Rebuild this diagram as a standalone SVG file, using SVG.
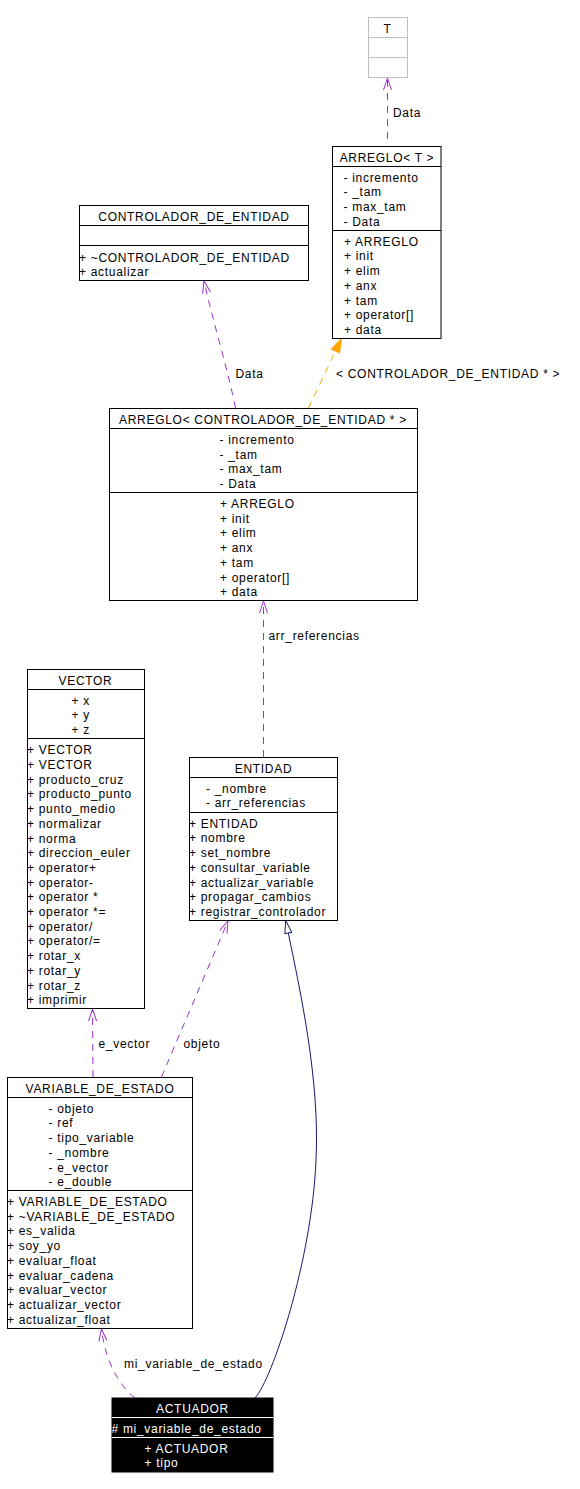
<svg xmlns="http://www.w3.org/2000/svg" width="580" height="1489" viewBox="0 0 580 1489">
<style>
text{font-family:"Liberation Sans",Arial,Helvetica,sans-serif;font-size:12px;letter-spacing:0.7px;fill:#000}
.c{text-anchor:middle}
.box{fill:#fff;stroke:#000;stroke-width:1}
.sep{stroke:#000;stroke-width:1}
.gray{fill:#fff;stroke:#bfbfbf;stroke-width:1}
.gsep{stroke:#bfbfbf;stroke-width:1}
.dark{fill:#000;stroke:#000;stroke-width:1}
.wsep{stroke:#fff;stroke-width:1}
.w{fill:#fff}
.use{fill:none;stroke:#9a32cd;stroke-width:1;stroke-dasharray:7,6;marker-end:url(#vee)}
.tmpl{fill:none;stroke:#ffa500;stroke-width:1;stroke-dasharray:7,6;marker-end:url(#fill)}
.inh{fill:none;stroke:#191970;stroke-width:1;marker-end:url(#tri)}
</style>
<defs>
<marker id="vee" viewBox="0 -5 13 10" markerUnits="userSpaceOnUse" markerWidth="13" markerHeight="10" refX="12" refY="0" orient="auto" overflow="visible">
<path d="M0,-4 L12,0 L0,4" fill="none" stroke="#9a32cd" stroke-width="1"/>
</marker>
<marker id="fill" viewBox="0 -5 14 10" markerUnits="userSpaceOnUse" markerWidth="14" markerHeight="10" refX="14" refY="0" orient="auto" overflow="visible">
<path d="M0,-4.5 L14,0 L0,4.5 z" fill="#ffa500" stroke="#ffa500" stroke-width="1"/>
</marker>
<marker id="tri" viewBox="0 -5 14 10" markerUnits="userSpaceOnUse" markerWidth="14" markerHeight="10" refX="0" refY="0" orient="auto" overflow="visible">
<path d="M0,-3.5 L13,0 L0,3.5 z" fill="#fff" stroke="#191970" stroke-width="1"/>
</marker>
</defs>

<g id="edges">
<path class="use" d="M387.5,139 L387.5,78"/>
<path class="tmpl" d="M308.5,408 L341.5,338.5"/>
<path class="use" d="M235.5,408 C228,370 212,318 204,281"/>
<path class="use" d="M263.5,757 L263.5,601"/>
<path class="use" d="M93,1077 L92.5,1009"/>
<path class="use" d="M161.5,1077 C175,1045 205,975 228,921"/>
<path class="use" d="M135,1398 C119,1386 105,1360 101.5,1329"/>
<path class="inh" d="M255,1398 C272,1380 312,1260 316,1160 C320,1080 300,990 288.3,933"/>
<text x="393" y="116.5">Data</text>
<text x="235.5" y="377.5">Data</text>
<text x="336" y="377.5">&lt; CONTROLADOR_DE_ENTIDAD * &gt;</text>
<text x="268.5" y="640">arr_referencias</text>
<text x="98.5" y="1047.5">e_vector</text>
<text x="183.5" y="1047.5">objeto</text>
<text x="124" y="1367.5">mi_variable_de_estado</text>
</g>

<g id="T">
<rect class="gray" x="368.5" y="17.5" width="39" height="60"/>
<line class="gsep" x1="368.5" y1="37.5" x2="407.5" y2="37.5"/>
<line class="gsep" x1="368.5" y1="57.5" x2="407.5" y2="57.5"/>
<text class="c" x="387.5" y="33">T</text>
</g>

<g id="ARREGLO_T">
<rect class="box" x="332.5" y="146.5" width="108.5" height="192"/>
<line class="sep" x1="332.5" y1="166.5" x2="441" y2="166.5"/>
<line class="sep" x1="332.5" y1="230.5" x2="441" y2="230.5"/>
<text class="c" x="387" y="162">ARREGLO&lt; T &gt;</text>
<text x="343.5" y="181.5">- incremento</text>
<text x="343.5" y="196.2">- _tam</text>
<text x="343.5" y="210.9">- max_tam</text>
<text x="343.5" y="225.6">- Data</text>
<text x="344" y="245.7">+ ARREGLO</text>
<text x="344" y="260.4">+ init</text>
<text x="344" y="275.1">+ elim</text>
<text x="344" y="289.8">+ anx</text>
<text x="344" y="304.5">+ tam</text>
<text x="344" y="319.2">+ operator[]</text>
<text x="344" y="333.9">+ data</text>
</g>

<g id="CONTROLADOR_DE_ENTIDAD">
<rect class="box" x="79.5" y="205.5" width="229" height="75"/>
<line class="sep" x1="79.5" y1="225.5" x2="308.5" y2="225.5"/>
<line class="sep" x1="79.5" y1="245.5" x2="308.5" y2="245.5"/>
<text class="c" x="194" y="221">CONTROLADOR_DE_ENTIDAD</text>
<text x="79" y="261.5">+ ~CONTROLADOR_DE_ENTIDAD</text>
<text x="79" y="276.2">+ actualizar</text>
</g>

<g id="ARREGLO_CDE">
<rect class="box" x="109.5" y="408.5" width="308" height="192"/>
<line class="sep" x1="109.5" y1="428.5" x2="417.5" y2="428.5"/>
<line class="sep" x1="109.5" y1="492.5" x2="417.5" y2="492.5"/>
<text class="c" x="263" y="424">ARREGLO&lt; CONTROLADOR_DE_ENTIDAD * &gt;</text>
<text x="219.5" y="444">- incremento</text>
<text x="219.5" y="458.7">- _tam</text>
<text x="219.5" y="473.4">- max_tam</text>
<text x="219.5" y="488">- Data</text>
<text x="220" y="508">+ ARREGLO</text>
<text x="220" y="522.7">+ init</text>
<text x="220" y="537.4">+ elim</text>
<text x="220" y="552.1">+ anx</text>
<text x="220" y="566.8">+ tam</text>
<text x="220" y="581.5">+ operator[]</text>
<text x="220" y="596.2">+ data</text>
</g>

<g id="VECTOR">
<rect class="box" x="27.5" y="669.5" width="117" height="339"/>
<line class="sep" x1="27.5" y1="689.5" x2="144.5" y2="689.5"/>
<line class="sep" x1="27.5" y1="738.5" x2="144.5" y2="738.5"/>
<text class="c" x="85.5" y="685.3">VECTOR</text>
<text x="71.5" y="704.7">+ x</text>
<text x="71.5" y="719.2">+ y</text>
<text x="71.5" y="733.7">+ z</text>
<text x="27" y="754.3">+ VECTOR</text>
<text x="27" y="769">+ VECTOR</text>
<text x="27" y="783.7">+ producto_cruz</text>
<text x="27" y="798.4">+ producto_punto</text>
<text x="27" y="813.1">+ punto_medio</text>
<text x="27" y="827.8">+ normalizar</text>
<text x="27" y="842.5">+ norma</text>
<text x="27" y="857.2">+ direccion_euler</text>
<text x="27" y="871.9">+ operator+</text>
<text x="27" y="886.6">+ operator-</text>
<text x="27" y="901.3">+ operator *</text>
<text x="27" y="916">+ operator *=</text>
<text x="27" y="930.7">+ operator/</text>
<text x="27" y="945.4">+ operator/=</text>
<text x="27" y="960.1">+ rotar_x</text>
<text x="27" y="974.8">+ rotar_y</text>
<text x="27" y="989.5">+ rotar_z</text>
<text x="27" y="1004.2">+ imprimir</text>
</g>

<g id="ENTIDAD">
<rect class="box" x="189.5" y="757.5" width="148" height="163"/>
<line class="sep" x1="189.5" y1="777.5" x2="337.5" y2="777.5"/>
<line class="sep" x1="189.5" y1="812.5" x2="337.5" y2="812.5"/>
<text class="c" x="263.5" y="773.3">ENTIDAD</text>
<text x="206" y="792.7">- _nombre</text>
<text x="206" y="807.4">- arr_referencias</text>
<text x="189" y="827.7">+ ENTIDAD</text>
<text x="189" y="842.4">+ nombre</text>
<text x="189" y="857.1">+ set_nombre</text>
<text x="189" y="871.8">+ consultar_variable</text>
<text x="189" y="886.5">+ actualizar_variable</text>
<text x="189" y="901.2">+ propagar_cambios</text>
<text x="189" y="915.9">+ registrar_controlador</text>
</g>

<g id="VARIABLE_DE_ESTADO">
<rect class="box" x="7.5" y="1077.5" width="185" height="251"/>
<line class="sep" x1="7.5" y1="1097.5" x2="192.5" y2="1097.5"/>
<line class="sep" x1="7.5" y1="1190.5" x2="192.5" y2="1190.5"/>
<text class="c" x="100" y="1093">VARIABLE_DE_ESTADO</text>
<text x="48.5" y="1112.7">- objeto</text>
<text x="48.5" y="1127.4">- ref</text>
<text x="48.5" y="1142.1">- tipo_variable</text>
<text x="48.5" y="1156.8">- _nombre</text>
<text x="48.5" y="1171.5">- e_vector</text>
<text x="48.5" y="1186.2">- e_double</text>
<text x="7" y="1206">+ VARIABLE_DE_ESTADO</text>
<text x="7" y="1220.7">+ ~VARIABLE_DE_ESTADO</text>
<text x="7" y="1235.4">+ es_valida</text>
<text x="7" y="1250.1">+ soy_yo</text>
<text x="7" y="1264.8">+ evaluar_float</text>
<text x="7" y="1279.5">+ evaluar_cadena</text>
<text x="7" y="1294.2">+ evaluar_vector</text>
<text x="7" y="1308.9">+ actualizar_vector</text>
<text x="7" y="1323.6">+ actualizar_float</text>
</g>

<g id="ACTUADOR">
<rect class="dark" x="112" y="1398" width="161" height="74"/>
<line class="wsep" x1="112" y1="1417.5" x2="273" y2="1417.5"/>
<line class="wsep" x1="112" y1="1437.5" x2="273" y2="1437.5"/>
<text class="c w" x="192.5" y="1412.7">ACTUADOR</text>
<text class="w" x="111.5" y="1432.7"># mi_variable_de_estado</text>
<text class="w" x="144.5" y="1452.7">+ ACTUADOR</text>
<text class="w" x="144.5" y="1467.4">+ tipo</text>
</g>
</svg>
